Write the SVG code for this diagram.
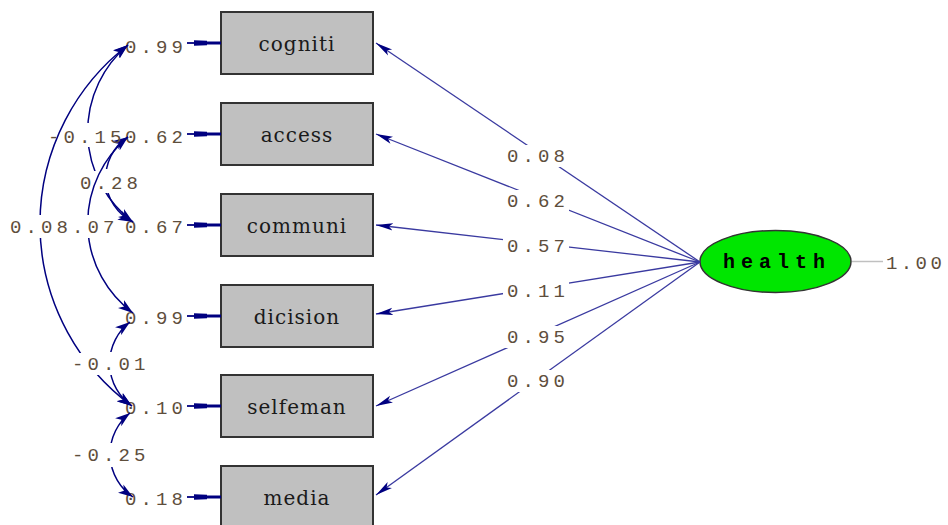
<svg xmlns="http://www.w3.org/2000/svg" width="948" height="525" viewBox="0 0 948 525">
<style>
.box{fill:#c0c0c0;stroke:#333;stroke-width:2}
.bt{font-family:"DejaVu Serif",serif;font-size:20px;fill:#1a1a1a;text-anchor:middle;letter-spacing:1px}
.lbl{font-family:"Liberation Mono",monospace;font-size:19px;fill:#5e4e3c;letter-spacing:4.1px}
.ht{font-family:"Liberation Mono",monospace;font-size:20px;font-weight:bold;fill:#000;letter-spacing:6px}
.load{fill:none;stroke:#3a3aa0;stroke-width:1.3;marker-end:url(#la)}
.cov{fill:none;stroke:#000080;stroke-width:1.5;marker-start:url(#ca);marker-end:url(#ca)}
</style>
<defs>
<marker id="la" markerUnits="userSpaceOnUse" markerWidth="18" markerHeight="10" viewBox="0 0 18 10" refX="17" refY="5" orient="auto">
<path d="M0,1.3 L17,5 L0,8.7 L4,5 z" fill="#000080"/>
</marker>
<marker id="ca" markerUnits="userSpaceOnUse" markerWidth="16" markerHeight="11" viewBox="0 0 16 11" refX="15" refY="5.5" orient="auto-start-reverse">
<path d="M0,0.5 L15,5.5 L0,10.5 L4,5.5 z" fill="#000080"/>
</marker>
<g id="ea">
<path d="M187,0 H206" stroke="#000080" stroke-width="1.8" fill="none"/>
<path d="M205,0 H221" stroke="#000080" stroke-width="3" fill="none"/>
<path d="M194,-2.8 L207,-2.2 L207,2.2 L194,2.8 z" fill="#000080"/>
</g>
<mask id="mL" maskUnits="userSpaceOnUse" x="0" y="0" width="948" height="525">
<rect width="948" height="525" fill="#fff"/>
<rect x="503" y="145" width="66" height="22"/>
<rect x="503" y="190" width="66" height="22"/>
<rect x="503" y="235" width="66" height="22"/>
<rect x="503" y="280" width="66" height="22"/>
<rect x="503" y="326" width="66" height="22"/>
<rect x="503" y="370" width="66" height="22"/>
</mask>
<mask id="mA" maskUnits="userSpaceOnUse" x="0" y="0" width="948" height="525">
<rect width="948" height="525" fill="#fff"/>
<rect x="46" y="123" width="76" height="24"/>
<rect x="78" y="171" width="62" height="22"/>
</mask>
<mask id="mB" maskUnits="userSpaceOnUse" x="0" y="0" width="948" height="525">
<rect width="948" height="525" fill="#fff"/>
<rect x="78" y="169" width="62" height="24"/>
</mask>
<mask id="mC" maskUnits="userSpaceOnUse" x="0" y="0" width="948" height="525">
<rect width="948" height="525" fill="#fff"/>
<rect x="7" y="215" width="65" height="23"/>
<rect x="70" y="353" width="77" height="22"/>
</mask>
<mask id="mD" maskUnits="userSpaceOnUse" x="0" y="0" width="948" height="525">
<rect width="948" height="525" fill="#fff"/>
<rect x="55" y="215" width="63" height="23"/>
</mask>
<mask id="mE" maskUnits="userSpaceOnUse" x="0" y="0" width="948" height="525">
<rect width="948" height="525" fill="#fff"/>
<rect x="70" y="352" width="77" height="23"/>
</mask>
<mask id="mF" maskUnits="userSpaceOnUse" x="0" y="0" width="948" height="525">
<rect width="948" height="525" fill="#fff"/>
<rect x="70" y="443" width="77" height="24"/>
</mask>
</defs>
<rect width="948" height="525" fill="#fff"/>

<g id="cogniti">
<rect class="box" x="221" y="12" width="152" height="62"/>
<text class="bt" x="297" y="51">cogniti</text>
<text class="lbl" x="125" y="53">0.99</text>
</g>
<g id="access">
<rect class="box" x="221" y="103" width="152" height="62"/>
<text class="bt" x="297" y="142">access</text>
<text class="lbl" x="125" y="143">0.62</text>
</g>
<g id="communi">
<rect class="box" x="221" y="194" width="152" height="62"/>
<text class="bt" x="297" y="233">communi</text>
<text class="lbl" x="125" y="233">0.67</text>
</g>
<g id="dicision">
<rect class="box" x="221" y="285" width="152" height="62"/>
<text class="bt" x="297" y="324">dicision</text>
<text class="lbl" x="125" y="324">0.99</text>
</g>
<g id="selfeman">
<rect class="box" x="221" y="375" width="152" height="62"/>
<text class="bt" x="297" y="414">selfeman</text>
<text class="lbl" x="125" y="414">0.10</text>
</g>
<g id="media">
<rect class="box" x="221" y="466" width="152" height="62"/>
<text class="bt" x="297" y="505">media</text>
<text class="lbl" x="125" y="505">0.18</text>
</g>
<g id="health">
<ellipse cx="775.5" cy="261.5" rx="75.5" ry="31" fill="#00e600" stroke="#333" stroke-width="1.5"/>
<text class="ht" x="723" y="268">health</text>
<path d="M852,261.5 H883" stroke="#c0c0c0" stroke-width="1.5"/>
<text class="lbl" x="886" y="269" style="letter-spacing:3.4px">1.00</text>
</g>

<g id="connectors">
<use href="#ea" y="43"/>
<use href="#ea" y="134"/>
<use href="#ea" y="225"/>
<use href="#ea" y="316"/>
<use href="#ea" y="406"/>
<use href="#ea" y="497"/>
<g mask="url(#mL)">
<path class="load" d="M700,262 L376,43"/>
<path class="load" d="M700,262 L376,134"/>
<path class="load" d="M700,262 L376,225"/>
<path class="load" d="M700,262 L376,314"/>
<path class="load" d="M700,262 L376,406"/>
<path class="load" d="M700,262 L376,495"/>
</g>
<path class="cov" mask="url(#mA)" d="M128,45 A113,113 0 0,0 133,222"/>
<path class="cov" mask="url(#mB)" d="M128,137 A49,49 0 0,0 133,222"/>
<path class="cov" mask="url(#mC)" d="M128,45 A226,226 0 0,0 132,406"/>
<path class="cov" mask="url(#mD)" d="M128,137 A112,112 0 0,0 133,313"/>
<path class="cov" mask="url(#mE)" d="M130,322 A52,52 0 0,0 132,406"/>
<path class="cov" mask="url(#mF)" d="M130,413 A52,52 0 0,0 133,497"/>
</g>

<g id="labels">
<text class="lbl" x="507" y="162">0.08</text>
<text class="lbl" x="507" y="207">0.62</text>
<text class="lbl" x="507" y="252">0.57</text>
<text class="lbl" x="507" y="297">0.11</text>
<text class="lbl" x="507" y="343">0.95</text>
<text class="lbl" x="507" y="387">0.90</text>
<text class="lbl" x="48" y="143">-0.15</text>
<text class="lbl" x="80" y="189">0.28</text>
<text class="lbl" x="56.5" y="233">0.07</text>
<rect x="55" y="217" width="13" height="19" fill="#fff"/>
<text class="lbl" x="10" y="233">0.08</text>
<text class="lbl" x="72" y="370">-0.01</text>
<text class="lbl" x="72" y="461">-0.25</text>
</g>
</svg>
